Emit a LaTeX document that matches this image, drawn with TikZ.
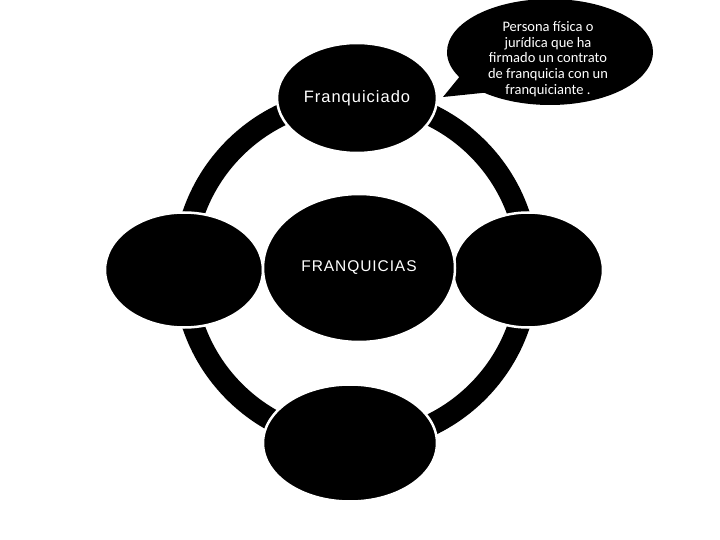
\documentclass[tikz,border=0pt]{standalone}
\usepackage{fontspec}
\setmainfont{Liberation Sans}
\newfontfamily\etiquetafont[LetterSpace=6]{Liberation Sans}
\newfontfamily\notafont{Carlito}
\usetikzlibrary{shapes.geometric,shapes.callouts}

\begin{document}
\begin{tikzpicture}[x=1pt,y=-1pt,
	every node/.style={ellipse, fill=black, draw=white, line width=2.5pt, inner sep=0pt, text=white},
	etiqueta/.style={font=\etiquetafont\fontsize{#1}{20}\selectfont}]
	
	\useasboundingbox (0,0) rectangle (720,540);
	\draw[line width=22pt] (356,270) circle [radius=172pt];
	
	\node[minimum width=158pt, minimum height=115pt] (izquierda) at (184,270) {};
	\node[minimum width=150pt, minimum height=115pt] (derecha) at (528,270) {};
	\node[minimum width=192pt, minimum height=148pt, etiqueta=15.5] (centro) at (359,268) {FRANQUICIAS};
	\node[minimum width=160pt, minimum height=110pt, etiqueta=16.5] (franquiciado) at (357,98) {Franquiciado};
	\node[minimum width=174pt, minimum height=117pt] (inferior) at (350,443) {};
	
	\coordinate (punta) at (443,97);
	\node[ellipse callout, draw=none, minimum width=206pt, minimum height=106pt,
		callout absolute pointer=(punta), callout pointer arc=22] (nota) at (550,52) {};
	\node[draw=none, fill=none, font=\notafont\fontsize{14.5}{15.75}\selectfont, align=center] (notatexto) at (548,59)
		{Persona física o\\jurídica que ha\\firmado un contrato\\de franquicia con un\\franquiciante .};

\end{tikzpicture}
\end{document}
